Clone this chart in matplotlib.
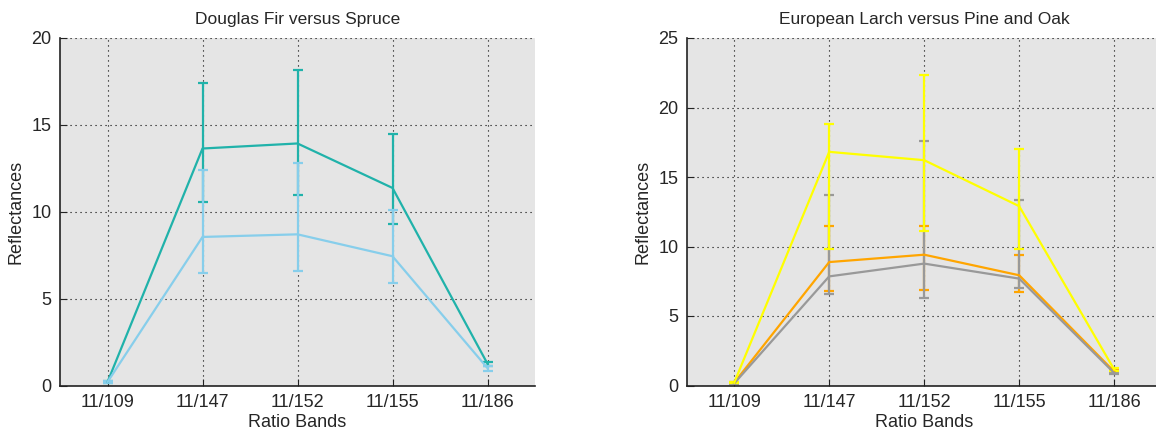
import matplotlib
matplotlib.use("Agg")
import matplotlib.pyplot as plt
import numpy as np

plt.rcParams['font.family'] = ['Liberation Sans', 'DejaVu Sans']

bands = ["11/109", "11/147", "11/152", "11/155", "11/186"]

# Douglas Fir vs Spruce: means with lower / upper bar ends
fir_mean = [0.2, 13.64, 13.93, 11.37, 1.25]
fir_low = [0.15, 10.55, 10.99, 9.32, 1.15]
fir_high = [0.25, 17.39, 18.16, 14.50, 1.35]

spruce_mean = [0.2, 8.55, 8.70, 7.44, 1.0]
spruce_low = [0.15, 6.49, 6.61, 5.92, 0.85]
spruce_high = [0.25, 12.43, 12.81, 10.09, 1.15]

# European Larch vs Pine and Oak
larch_mean = [0.2, 16.81, 16.21, 12.90, 1.15]
larch_low = [0.15, 9.80, 11.12, 9.80, 1.05]
larch_high = [0.25, 18.78, 22.31, 16.98, 1.25]

pine_mean = [0.2, 8.88, 9.41, 7.93, 1.0]
pine_low = [0.15, 6.80, 6.89, 6.72, 0.9]
pine_high = [0.25, 11.50, 11.50, 9.41, 1.1]

oak_mean = [0.15, 7.85, 8.77, 7.69, 0.9]
oak_low = [0.1, 6.60, 6.32, 7.04, 0.8]
oak_high = [0.2, 13.74, 17.56, 13.33, 1.0]

W, H = 1156, 432
fig = plt.figure(figsize=(W / 100, H / 100), dpi=100)

ax1 = fig.add_axes([60 / W, 1 - 385.5 / H, (535 - 60) / W, (385.5 - 38) / H])
ax2 = fig.add_axes([686.7 / W, 1 - 385.5 / H, 475 / W, (385.5 - 38) / H])

x = np.arange(1, len(bands) + 1)
TXT = "#262626"


def series(ax, mean, low, high, color):
    mean = np.array(mean)
    yerr = [mean - np.array(low), np.array(high) - mean]
    ax.errorbar(x, mean, yerr=yerr, color=color, lw=1.6, elinewidth=1.6,
                capsize=3.8, capthick=1.6)


def style(ax, title, ymax, step):
    ax.set_facecolor("#e5e5e5")
    ax.set_xlim(0.5, 5.5)
    ax.set_ylim(0, ymax)
    ax.set_xticks(x)
    ax.set_xticklabels(bands)
    ax.set_yticks(np.arange(0, ymax + 1, step))
    ax.grid(True, color="black", linestyle=(0, (1, 3.5)), linewidth=0.8)
    ax.set_axisbelow(True)
    for s in ("top", "right"):
        ax.spines[s].set_visible(False)
    for s in ("left", "bottom"):
        ax.spines[s].set_color("#222222")
        ax.spines[s].set_linewidth(1.2)
    ax.tick_params(direction="in", length=5, labelsize=13, colors="#222222",
                   labelcolor=TXT, pad=6)
    ax.set_title(title, fontsize=12.5, color=TXT, pad=10)
    ax.set_xlabel("Ratio Bands", fontsize=13, color=TXT, labelpad=2)
    ax.set_ylabel("Reflectances", fontsize=13, color=TXT, labelpad=5)


series(ax1, fir_mean, fir_low, fir_high, "#20b2aa")
series(ax1, spruce_mean, spruce_low, spruce_high, "#87ceeb")
style(ax1, "Douglas Fir versus Spruce", 20, 5)

series(ax2, pine_mean, pine_low, pine_high, "#ffa500")
series(ax2, oak_mean, oak_low, oak_high, "#999999")
series(ax2, larch_mean, larch_low, larch_high, "#ffff00")
style(ax2, "European Larch versus Pine and Oak", 25, 5)

fig.savefig("out.png", dpi=100, facecolor="white")
